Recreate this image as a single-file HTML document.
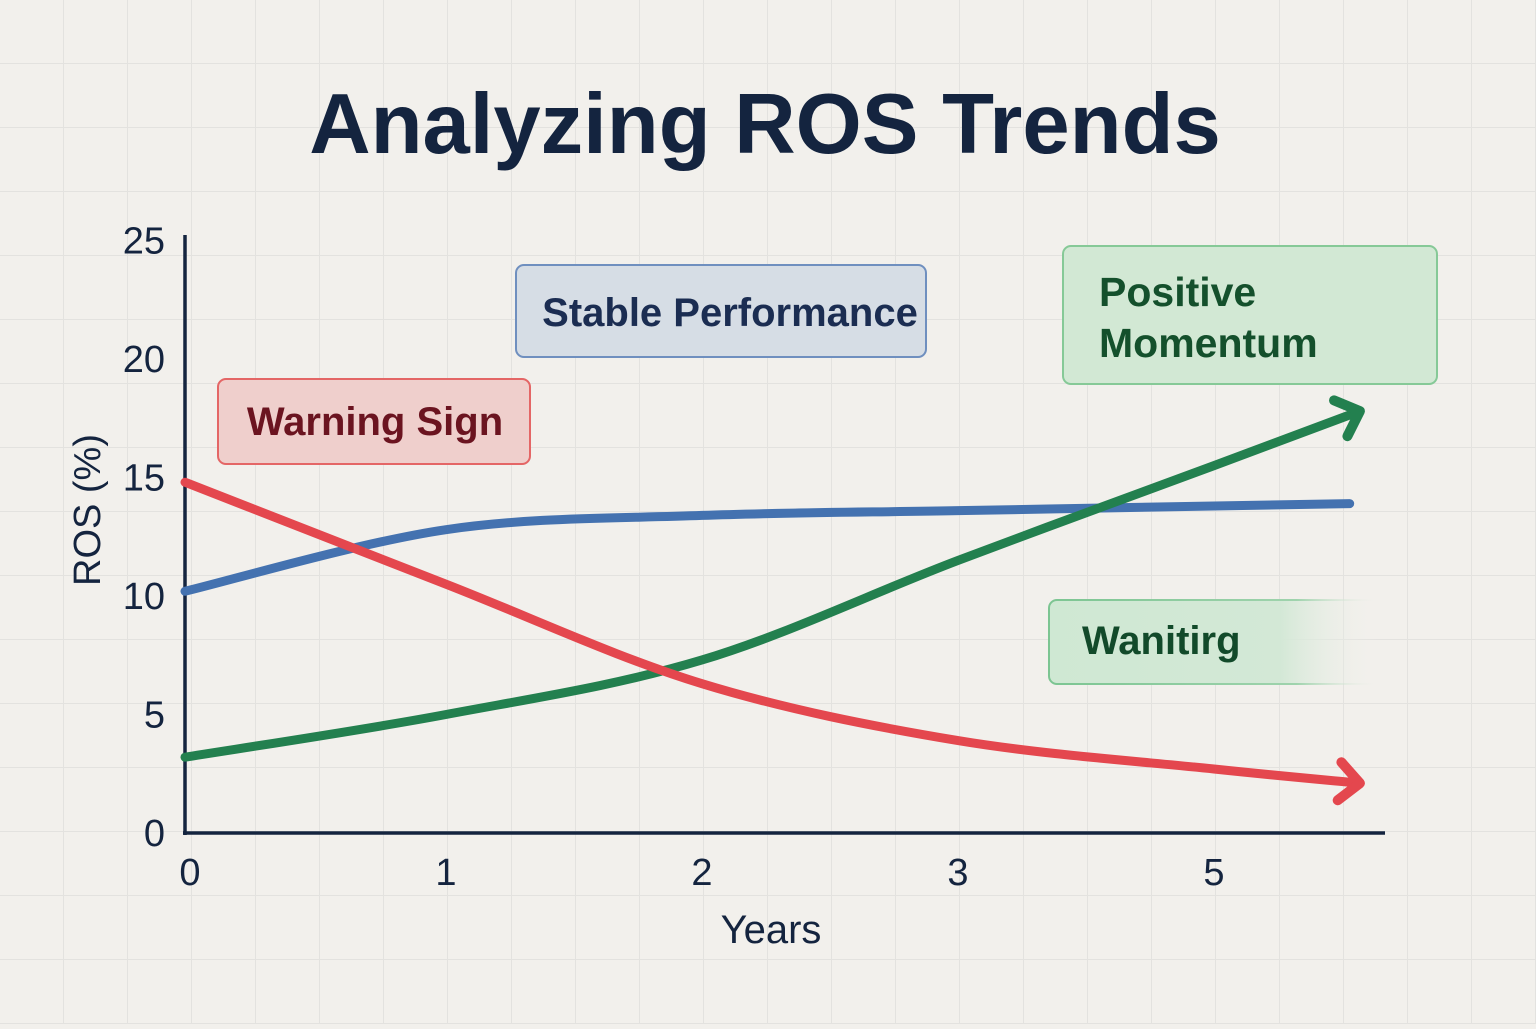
<!DOCTYPE html>
<html><head><meta charset="utf-8">
<style>
html,body{margin:0;padding:0;}
body{width:1536px;height:1024px;overflow:hidden;background:#f2f0ec;font-family:"Liberation Sans",sans-serif;}
</style></head>
<body>
<svg id="chart" width="1536" height="1024" viewBox="0 0 1536 1024" xmlns="http://www.w3.org/2000/svg">
<defs>
<pattern id="grid" width="64" height="64" patternUnits="userSpaceOnUse" x="0" y="0">
<path d="M64 0 V64 M0 64 H64" fill="none" stroke="#e3e2df" stroke-width="2"/>
</pattern>
<linearGradient id="fade" x1="0" x2="1" y1="0" y2="0">
<stop offset="0" stop-color="#cfe8d3"/><stop offset="0.7" stop-color="#d3e8d6"/><stop offset="1" stop-color="#f2f0ec" stop-opacity="0"/>
</linearGradient>
<linearGradient id="fadeStroke" x1="0" x2="1" y1="0" y2="0">
<stop offset="0" stop-color="#7cc592"/><stop offset="0.75" stop-color="#9fd3ad"/><stop offset="1" stop-color="#f2f0ec" stop-opacity="0"/>
</linearGradient>
</defs>
<rect width="1536" height="1024" fill="url(#grid)"/>
<text x="765" y="153" text-anchor="middle" font-size="85" font-weight="bold" fill="#14243f" font-family="Liberation Sans, sans-serif">Analyzing ROS Trends</text>
<g id="axes"></g>
<g id="series"></g>
<g>
<rect x="516" y="265" width="410" height="92" rx="8" fill="#d6dde5" stroke="#6f8fbf" stroke-width="2"/>
<text x="730" y="326" text-anchor="middle" font-size="40" font-weight="bold" fill="#1b2d52">Stable Performance</text>
</g>
<g>
<rect x="1063" y="246" width="374" height="138" rx="8" fill="#d2e8d4" stroke="#86c997" stroke-width="2"/>
<text x="1099" y="306" font-size="41" font-weight="bold" fill="#14502c">Positive</text>
<text x="1099" y="357" font-size="41" font-weight="bold" fill="#14502c">Momentum</text>
</g>
<g>
<rect x="218" y="379" width="312" height="85" rx="8" fill="#efcfcc" stroke="#e46666" stroke-width="2"/>
<text x="375" y="435" text-anchor="middle" font-size="40" font-weight="bold" fill="#6b1420">Warning Sign</text>
</g>
<g>
<rect x="1049" y="600" width="330" height="84" rx="8" fill="url(#fade)" stroke="url(#fadeStroke)" stroke-width="2"/>
<text x="1082" y="654" font-size="40" font-weight="bold" fill="#124a2a">Wanitirg</text>
</g>
</svg>
<script>
const xCategories = ["0","1","2","3","5"];
const yTicks = [0,5,10,15,20,25];
const blueX = [0,1,2,3,4,4.53];
const blueY = [10.2,12.8,13.4,13.6,13.8,13.9];
const redX = [0,1,2,3,4,4.57];
const redY = [14.8,10.5,6.3,3.9,2.7,2.1];
const greenX = [0,1,2,3,4,4.57];
const greenY = [3.2,5.0,7.3,11.5,15.5,17.8];

const NS="http://www.w3.org/2000/svg";
const xS = v => 190 + v*256;
const yS = v => 833 - v*23.7;
function mk(tag, attrs, parent){const e=document.createElementNS(NS,tag);for(const k in attrs)e.setAttribute(k,attrs[k]);parent.appendChild(e);return e;}
const axes=document.getElementById('axes');
const yAxis=mk('line',{x1:185,y1:235,x2:185,y2:835,stroke:'#14243f','stroke-width':3.5},axes);


const xAxis=mk('line',{x1:183,y1:833,x2:1385,y2:833,stroke:'#14243f','stroke-width':3.5},axes);


yTicks.forEach(t=>{
  const tx=mk('text',{x:165,y:yS(t)+13,'text-anchor':'end','font-size':38,fill:'#14243f'},axes);
  tx.textContent=t;
  
  
});
xCategories.forEach((c,i)=>{
  const tx=mk('text',{x:xS(i),y:885,'text-anchor':'middle','font-size':38,fill:'#14243f'},axes);
  tx.textContent=c;
  
  
});
const xt=mk('text',{x:771,y:943,'text-anchor':'middle','font-size':40,fill:'#14243f'},axes);
xt.textContent='Years';


const yt=mk('text',{x:0,y:0,'text-anchor':'middle','font-size':38,fill:'#14243f',transform:'translate(100,510) rotate(-90)'},axes);
yt.textContent='ROS (%)';



function smooth(xs,ys,x0){
  const p=xs.map((x,i)=>[xS(x),yS(ys[i])]);
  if(x0!==undefined)p[0][0]=x0;
  let d=`M${p[0][0]},${p[0][1]}`;
  for(let i=0;i<p.length-1;i++){
    const a=p[i-1]||p[i],b=p[i],c=p[i+1],e=p[i+2]||c;
    d+=` C${b[0]+(c[0]-a[0])/6},${b[1]+(c[1]-a[1])/6} ${c[0]-(e[0]-b[0])/6},${c[1]-(e[1]-b[1])/6} ${c[0]},${c[1]}`;
  }
  return {d,p};
}
const ser=document.getElementById('series');
function draw(xs,ys,color,name,arrow){
  const s=smooth(xs,ys,185);
  const path=mk('path',{d:s.d,fill:'none',stroke:color,'stroke-width':9,'stroke-linecap':'round'},ser);
  
  
  if(arrow){
    const n=s.p.length,b=s.p[n-1],a=s.p[n-2];
    const ang=Math.atan2(b[1]-a[1],b[0]-a[0]);
    const L=28;
    const p1=[b[0]-L*Math.cos(ang-0.75),b[1]-L*Math.sin(ang-0.75)];
    const p2=[b[0]-L*Math.cos(ang+0.75),b[1]-L*Math.sin(ang+0.75)];
    const h=mk('path',{d:`M${p1[0]},${p1[1]} L${b[0]},${b[1]} L${p2[0]},${p2[1]}`,fill:'none',stroke:color,'stroke-width':10,'stroke-linecap':'round','stroke-linejoin':'round'},ser);
    
    
  }
}
draw(blueX,blueY,'#4472b0','series-stable-blue',false);
draw(greenX,greenY,'#23804f','series-positive-green',true);
draw(redX,redY,'#e4474e','series-warning-red',true);
</script>
</body></html>
